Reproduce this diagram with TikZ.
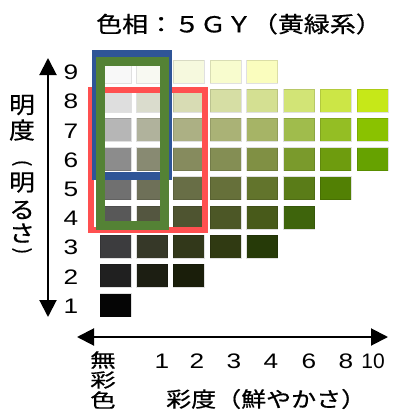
\documentclass[tikz,border=0pt]{standalone}
\usepackage{graphicx}
\usepackage{fontspec}
\usetikzlibrary{arrows.meta}
\setmainfont{Liberation Sans}
\newfontfamily\jp[FakeBold=0.6]{Noto Sans CJK JP}
\newcommand{\xsc}[2][1.18]{\scalebox{#1}[1]{#2}}
\definecolor{redf}{RGB}{255,80,80}
\definecolor{bluef}{RGB}{47,85,151}
\definecolor{greenf}{RGB}{84,130,53}
\tikzset{
  digit/.style={font=\fontsize{21}{21}\selectfont, inner sep=0pt},
  jpv/.style={font=\jp\fontsize{23}{23}\selectfont, inner sep=0pt},
  jpb/.style={font=\jp\fontsize{19}{19}\selectfont, inner sep=0pt},
  jph/.style={font=\jp\fontsize{22}{22}\selectfont, inner sep=0pt},
  axis/.style={line width=2pt, {Triangle[width=17pt,length=17pt]}-{Triangle[width=17pt,length=17pt]}},
}
\begin{document}
\begin{tikzpicture}[x=1pt,y=-1pt]
\useasboundingbox (0,0) rectangle (394,415);
\fill[white] (0,0) rectangle (394,415);
% colour chips: column index / value / R / G / B
\foreach \c/\v/\r/\g/\b in {
  0/9/248/248/248, 0/8/222/222/222, 0/7/182/182/182, 0/6/140/140/140, 0/5/112/112/112, 0/4/88/88/88, 0/3/60/60/62, 0/2/32/32/32, 0/1/5/5/5,
  1/9/248/249/242, 1/8/218/220/205, 1/7/176/178/156, 1/6/136/138/114, 1/5/110/112/88, 1/4/84/86/64, 1/3/54/56/40, 1/2/28/30/18,
  2/9/246/249/222, 2/8/216/220/180, 2/7/172/176/132, 2/6/134/139/94, 2/5/104/110/70, 2/4/78/84/48, 2/3/50/56/26, 2/2/26/30/10,
  3/9/248/252/206, 3/8/214/222/164, 3/7/170/178/118, 3/6/132/142/84, 3/5/102/112/58, 3/4/76/87/38, 3/3/48/58/18,
  4/9/250/253/190, 4/8/212/224/146, 4/7/166/180/102, 4/6/128/144/68, 4/5/98/116/44, 4/4/72/90/26, 4/3/38/58/8,
  5/8/210/228/118, 5/7/160/188/76, 5/6/122/154/44, 5/5/90/124/24, 5/4/62/100/12,
  6/8/204/230/70, 6/7/148/190/36, 6/6/110/156/14, 6/5/82/128/4,
  7/8/198/232/24, 7/7/138/194/0, 7/6/102/162/0}{
  \definecolor{cellc}{RGB}{\r,\g,\b}
  \pgfmathsetmacro\xx{100+36.7*\c}
  \pgfmathsetmacro\yy{60+29.2*(9-\v)}
  \filldraw[fill=cellc, draw=black, draw opacity=0.12, line width=0.8pt] (\xx,\yy) rectangle ++(31,23);
}
% frames
\draw[redf, line width=6pt] (91,90) rectangle (205,230);
\draw[bluef, line width=8pt] (96,54) rectangle (168,176);
\draw[greenf, line width=9pt] (100.5,61.5) rectangle (164.5,225.5);
% axes
\coordinate (vt) at (48,58);
\coordinate (vb) at (48,317);
\draw[axis] (vt) -- (vb);
\coordinate (hl) at (77,337);
\coordinate (hr) at (388,337);
\draw[axis] (hl) -- (hr);
% value labels
\foreach \v in {1,...,9}{
  \node[digit] (m\v) at (71,{60+11.5+29.2*(9-\v)+1}) {\xsc[1.25]{\v}};
}
% chroma labels
\node[digit] (c1) at (162,361) {\xsc[1.25]{1}};
\node[digit] (c2) at (197,361) {\xsc[1.25]{2}};
\node[digit] (c3) at (234,361) {\xsc[1.25]{3}};
\node[digit] (c4) at (271,361) {\xsc[1.25]{4}};
\node[digit] (c6) at (309,361) {\xsc[1.25]{6}};
\node[digit] (c8) at (346,361) {\xsc[1.25]{8}};
\node[digit] (c10) at (373,361) {10};
% title
\node[jph, anchor=west] (title) at (96,24) {\xsc{色相：５ＧＹ（黄緑系）}};
% vertical label
\node[jpv] (l1) at (22,105) {\xsc[1.12]{明}};
\node[jpv] (l2) at (22,130) {\xsc[1.12]{度}};
\node[jpv] (l3) at (22,163) {\rotatebox{-90}{\scalebox{0.85}{(}}};
\node[jpv] (l4) at (22,182.5) {\xsc[1.12]{明}};
\node[jpv] (l5) at (22,210) {\xsc[1.12]{る}};
\node[jpv] (l6) at (22,233) {\xsc[1.12]{さ}};
\node[jpv] (l7) at (22,251) {\rotatebox{-90}{\scalebox{0.85}{)}}};
% achromatic
\node[jpb] (a1) at (103,360) {\xsc[1.35]{無}};
\node[jpb] (a2) at (103,380) {\xsc[1.35]{彩}};
\node[jpb] (a3) at (103,400) {\xsc[1.35]{色}};
% chroma axis label
\node[jpb, font=\jp\fontsize{21}{21}\selectfont, anchor=west] (clab) at (166,399) {\xsc[1.19]{彩度（鮮やかさ）}};
\end{tikzpicture}
\end{document}
